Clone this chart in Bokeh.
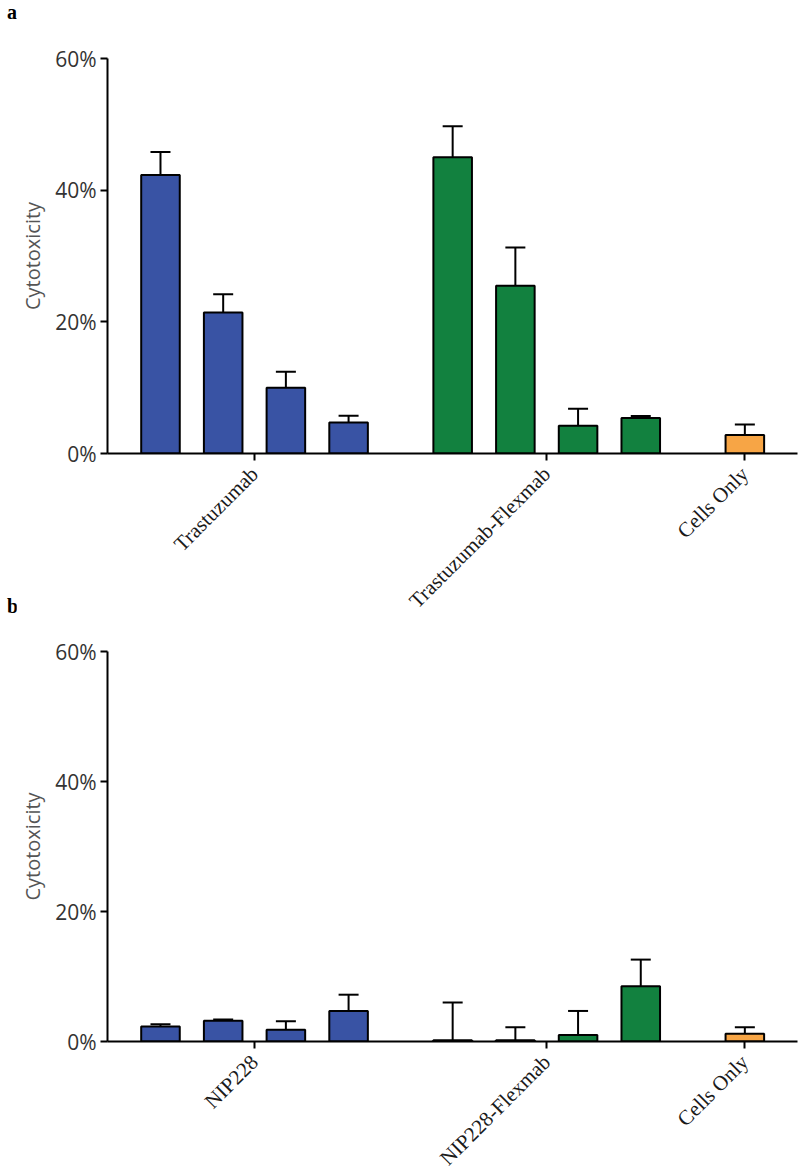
import numpy as np
from bokeh.plotting import figure
from bokeh.models import (Whisker, TeeHead, ColumnDataSource, FixedTicker,
                          Range1d, PrintfTickFormatter, Div)
from bokeh.layouts import column, row
from bokeh.embed import file_html
from bokeh.resources import INLINE

# ---------------- data ----------------
groups_a = ["Trastuzumab", "Trastuzumab-Flexmab", "Cells Only"]
trastuzumab = [42.3, 21.4, 10.0, 4.7]
trastuzumab_err = [3.5, 2.8, 2.4, 1.05]
trastuzumab_flexmab = [45.0, 25.5, 4.2, 5.4]
trastuzumab_flexmab_err = [4.7, 5.8, 2.6, 0.3]
cells_only_a = [2.8]
cells_only_a_err = [1.6]

groups_b = ["NIP228", "NIP228-Flexmab", "Cells Only"]
nip228 = [2.3, 3.2, 1.8, 4.7]
nip228_err = [0.35, 0.2, 1.3, 2.5]
nip228_flexmab = [0.2, 0.2, 1.0, 8.5]
nip228_flexmab_err = [5.8, 2.0, 3.7, 4.1]
cells_only_b = [1.2]
cells_only_b_err = [1.0]

y_ticks = [0, 20, 40, 60]
y_label = "Cytotoxicity"
panel_letters = ["a", "b"]
group_colors = ["#3953a4", "#12813f", "#f7a545"]

# ---------------- layout constants ----------------
SLOT_PX = 62.7
GAP = 1.66
FRAME_W = 690
LEFT_COL = 16
X_START = -0.845


def make_panel(groups, series, errs, frame_h, top_border, bottom_border):
    xs, tops, uppers, cols, centers = [], [], [], [], []
    pos = 0.0
    for gi, (vals, ers) in enumerate(zip(series, errs)):
        gx = [pos + i for i in range(len(vals))]
        centers.append(float(np.mean(gx)))
        xs += gx
        tops += list(vals)
        uppers += [v + e for v, e in zip(vals, ers)]
        cols += [group_colors[gi]] * len(vals)
        pos = gx[-1] + GAP
    src = ColumnDataSource(dict(x=xs, top=tops, upper=uppers, color=cols))

    p = figure(frame_width=FRAME_W, frame_height=frame_h,
               min_border_left=107 - LEFT_COL, min_border_right=3,
               min_border_top=top_border, min_border_bottom=bottom_border,
               x_range=Range1d(X_START, X_START + FRAME_W / SLOT_PX),
               y_range=Range1d(0, 60),
               output_backend="svg", toolbar_location=None)
    p.outline_line_color = None
    p.xgrid.visible = False
    p.ygrid.visible = False
    p.background_fill_color = "white"

    w = Whisker(source=src, base="x", lower="top", upper="upper",
                upper_head=TeeHead(size=20, line_width=2, line_color="black"),
                lower_head=None, line_width=2, line_color="black")
    p.add_layout(w)
    p.vbar(x="x", top="top", width=0.615, source=src, fill_color="color",
           line_color="black", line_width=2)

    ya = p.yaxis[0]
    ya.ticker = FixedTicker(ticks=y_ticks)
    ya.formatter = PrintfTickFormatter(format="%d%%")
    ya.minor_tick_line_color = None
    ya.axis_line_width = 2
    ya.major_tick_line_width = 2
    ya.major_tick_out = 7
    ya.major_tick_in = 0
    ya.major_label_standoff = 4
    ya.major_label_text_font = "Open Sans"
    ya.major_label_text_font_size = "21px"
    ya.major_label_text_color = "#333333"
    ya.axis_label = y_label
    ya.axis_label_text_font = "Open Sans"
    ya.axis_label_text_font_style = "normal"
    ya.axis_label_text_font_size = "20px"
    ya.axis_label_text_color = "#555555"
    ya.axis_label_standoff = 6

    xa = p.xaxis[0]
    xa.ticker = FixedTicker(ticks=centers)
    xa.major_label_overrides = {c: g for c, g in zip(centers, groups)}
    xa.minor_tick_line_color = None
    xa.axis_line_width = 2
    xa.major_tick_line_width = 2
    xa.major_tick_out = 7
    xa.major_tick_in = 0
    xa.major_label_standoff = 10
    xa.major_label_orientation = np.pi / 4
    xa.major_label_text_font = "Liberation Serif"
    xa.major_label_text_font_size = "21px"
    xa.major_label_text_color = "#1a1a1a"
    return p


def letter_div(letter, h):
    return Div(text=f'<div style="padding:2px 0 0 7px">{letter}</div>',
               width=LEFT_COL, height=h, margin=(0, 0, 0, 0),
               styles={"font-family": "Liberation Serif", "font-weight": "bold",
                       "font-size": "20px", "line-height": "1", "color": "black",
                       "overflow": "visible"})


pa = make_panel(groups_a,
                [trastuzumab, trastuzumab_flexmab, cells_only_a],
                [trastuzumab_err, trastuzumab_flexmab_err, cells_only_a_err],
                395, 58, 175)
pb = make_panel(groups_b,
                [nip228, nip228_flexmab, cells_only_b],
                [nip228_err, nip228_flexmab_err, cells_only_b_err],
                390, 23, 134)

left = column(letter_div(panel_letters[0], 594), letter_div(panel_letters[1], 581), spacing=0)
right = column(pa, pb, spacing=0)
layout = row(left, right, spacing=0)
open("out.html", "w").write(file_html(layout, INLINE))
